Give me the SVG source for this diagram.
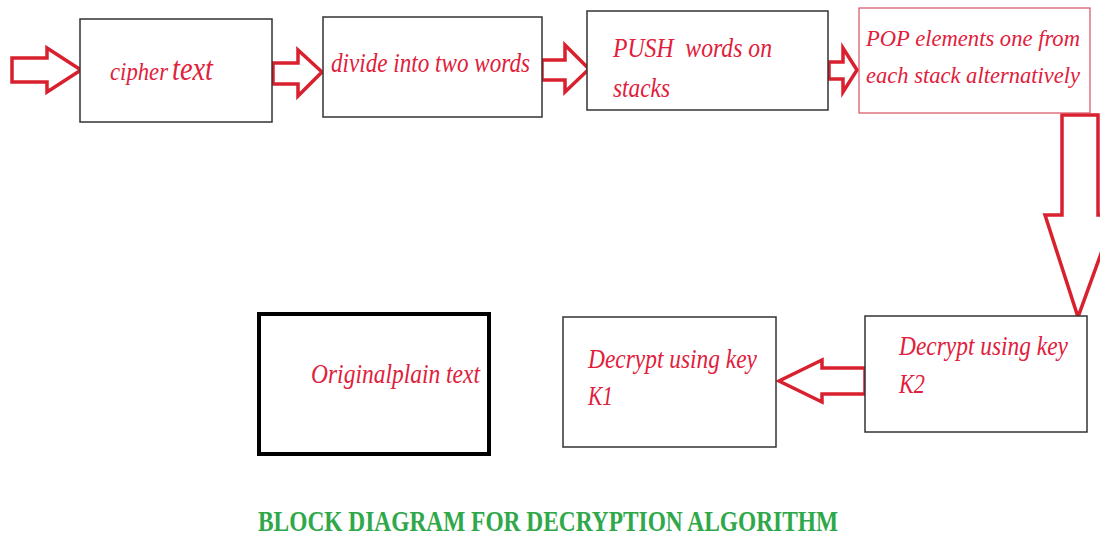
<svg xmlns="http://www.w3.org/2000/svg" width="1100" height="538" viewBox="0 0 1100 538">
<style>
.box{fill:#fff;stroke:#333;stroke-width:1.5}
.arr{fill:#fff;stroke:#d9202e;stroke-width:3.5;stroke-linejoin:miter}
.lbl{font-family:"Liberation Serif","Times New Roman",serif;font-style:italic;fill:#e0203c;font-size:28px}
.title{font-family:"Liberation Serif","Times New Roman",serif;font-weight:bold;fill:#2fa84a;font-size:30px}
</style>
<rect width="1100" height="538" fill="#fff"/>
<g id="connectors">
<path class="arr" d="M12,58 H47 V48 L81,70 L47,92 V82 H12 Z"/>
<path class="arr" d="M273,63 H298 V50 L322,72 L298,96 V84 H273 Z"/>
<path class="arr" d="M542,60 H565 V45 L589,69 L565,92 V80 H542 Z"/>
<path class="arr" d="M829,62 H843 V48 L857,70 L843,92 V79 H829 Z"/>
<path class="arr" d="M1062,115 H1098 V215 H1115 L1078,317 L1045,215 H1062 Z"/>
<path class="arr" d="M865,368 H822 V360 L779,381 L822,402 V394 H865 Z"/>
</g>
<g id="n1">
<rect class="box" x="80" y="19" width="192" height="103"/>
<text class="lbl" x="110" y="80" style="font-size:25px" textLength="58" lengthAdjust="spacingAndGlyphs">cipher</text>
<text class="lbl" x="172" y="80" style="font-size:33px" textLength="41" lengthAdjust="spacingAndGlyphs">text</text>
</g>
<g id="n2">
<rect class="box" x="323" y="17" width="219" height="100"/>
<text class="lbl" x="331" y="72" textLength="199" lengthAdjust="spacingAndGlyphs">divide into two words</text>
</g>
<g id="n3">
<rect class="box" x="587" y="11" width="241" height="99"/>
<text class="lbl" x="613" y="57" textLength="159" lengthAdjust="spacingAndGlyphs" xml:space="preserve">PUSH  words on</text>
<text class="lbl" x="613" y="97" textLength="57" lengthAdjust="spacingAndGlyphs">stacks</text>
</g>
<g id="n4">
<rect class="box" x="859" y="8" width="231" height="105" style="stroke:#d85060;stroke-width:1.2"/>
<text class="lbl" x="866" y="46" style="font-size:24px" textLength="214" lengthAdjust="spacingAndGlyphs">POP elements one from</text>
<text class="lbl" x="866" y="83" style="font-size:24px" textLength="214" lengthAdjust="spacingAndGlyphs">each stack alternatively</text>
</g>
<g id="n5">
<rect class="box" x="865" y="316" width="222" height="116"/>
<text class="lbl" x="899" y="355" textLength="169" lengthAdjust="spacingAndGlyphs">Decrypt using key</text>
<text class="lbl" x="899" y="393" textLength="26" lengthAdjust="spacingAndGlyphs">K2</text>
</g>
<g id="n6">
<rect class="box" x="563" y="317" width="213" height="130"/>
<text class="lbl" x="588" y="368" textLength="169" lengthAdjust="spacingAndGlyphs">Decrypt using key</text>
<text class="lbl" x="588" y="405" textLength="25" lengthAdjust="spacingAndGlyphs">K1</text>
</g>
<g id="n7">
<rect class="box" x="259" y="314" width="230" height="140" style="stroke:#000;stroke-width:4"/>
<text class="lbl" x="311" y="383" textLength="169" lengthAdjust="spacingAndGlyphs">Originalplain text</text>
</g>
<text class="title" x="258" y="531" textLength="580" lengthAdjust="spacingAndGlyphs">BLOCK DIAGRAM FOR DECRYPTION ALGORITHM</text>
</svg>
